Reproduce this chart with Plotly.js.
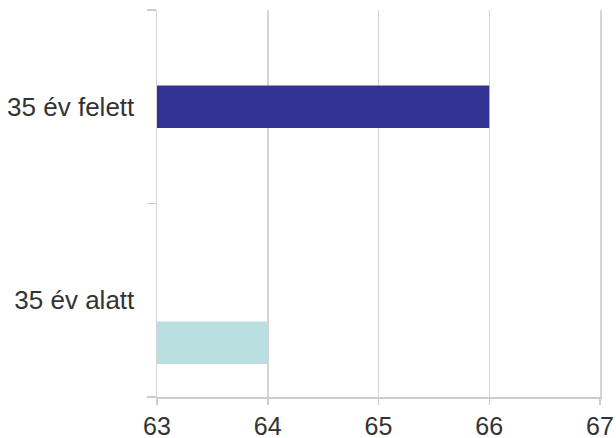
<!DOCTYPE html>
<html>
<head>
<meta charset="utf-8">
<script src="https://cdn.plot.ly/plotly-3.0.1.min.js"></script>
<style>html,body{margin:0;padding:0;background:#fff;}#chart{width:616px;height:438px;}</style>
</head>
<body>
<div id="chart"></div>
<script>
// Data
const categories = ['35 év alatt', '35 év felett'];
const seriesOverCat = ['35 év felett'];
const seriesOverVal = [66];
const seriesUnderCat = ['35 év alatt'];
const seriesUnderVal = [64];
const xTickVals = [63, 64, 65, 66, 67];

const traces = [
  {
    type: 'bar', orientation: 'h',
    y: seriesOverCat, x: seriesOverVal,
    width: 0.22, offset: -0.11,
    marker: {color: '#333394'},
    hoverinfo: 'x+y', showlegend: false
  },
  {
    type: 'bar', orientation: 'h',
    y: seriesUnderCat, x: seriesUnderVal,
    width: 0.22, offset: -0.33,
    marker: {color: '#b9dfe1'},
    hoverinfo: 'x+y', showlegend: false
  }
];

const layout = {
  width: 616, height: 438,
  margin: {l: 157, r: 16, t: 10, b: 41, pad: 0},
  paper_bgcolor: '#ffffff', plot_bgcolor: '#ffffff',
  font: {family: 'Arial, "Liberation Sans", sans-serif', size: 26, color: '#333333'},
  barmode: 'overlay',
  showlegend: false,
  xaxis: {
    range: [63, 67], tickvals: xTickVals, ticktext: xTickVals.map(String),
    showgrid: true, gridcolor: '#d4d4d4', gridwidth: 1.5,
    zeroline: false,
    showline: true, linecolor: '#cccccc', linewidth: 1.5,
    ticks: 'outside', ticklen: 6, tickcolor: '#cccccc', tickwidth: 1.5,
    ticklabelstandoff: 0,
    tickfont: {size: 25, color: '#333333'},
    automargin: false
  },
  yaxis: {
    type: 'category', categoryorder: 'array', categoryarray: categories,
    range: [-0.5, 1.5],
    showgrid: false, zeroline: false,
    showline: true, mirror: true, linecolor: '#d4d4d4', linewidth: 1.5,
    ticks: 'outside', tickson: 'boundaries', ticklen: 9, tickcolor: '#cccccc', tickwidth: 1.5,
    ticklabelstandoff: 16,
    tickfont: {size: 26, color: '#333333'},
    automargin: false
  }
};

Plotly.newPlot('chart', traces, layout, {displayModeBar: false, staticPlot: true});
</script>
</body>
</html>
